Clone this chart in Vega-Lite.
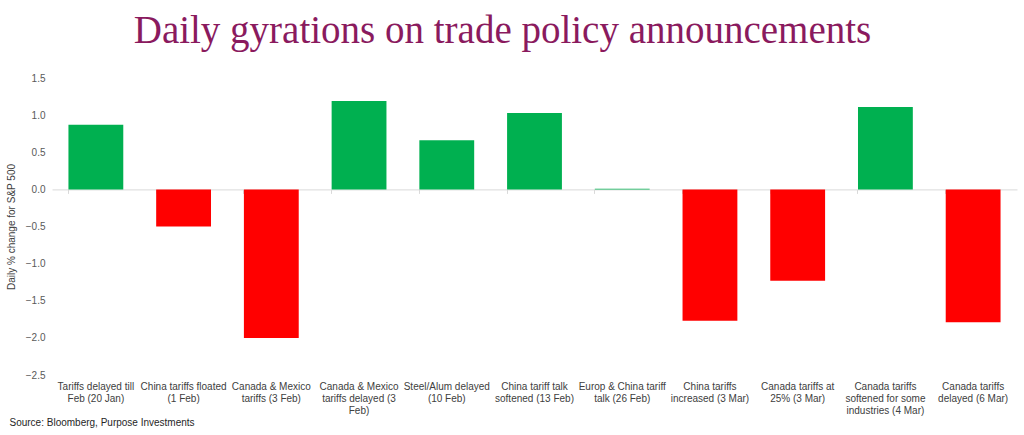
{
  "$schema": "https://vega.github.io/schema/vega-lite/v6.json",
  "autosize": "none",
  "width": 965,
  "height": 297,
  "padding": {"left": 52, "top": 78, "right": 7, "bottom": 60},
  "background": "#ffffff",
  "config": {"view": {"stroke": null}, "font": "Liberation Sans"},
  "title": {
    "text": "Daily gyrations on trade policy announcements",
    "font": "Liberation Serif",
    "fontSize": 39,
    "fontWeight": "normal",
    "color": "#8a1a5e",
    "anchor": "middle",
    "dx": -32,
    "offset": 22
  },
  "data": {
    "values": [
      {"event": "Tariffs delayed till|Feb (20 Jan)", "value": 0.87},
      {"event": "China tariffs floated|(1 Feb)", "value": -0.5},
      {"event": "Canada & Mexico|tariffs (3 Feb)", "value": -2.0},
      {"event": "Canada & Mexico|tariffs delayed (3|Feb)", "value": 1.19},
      {"event": "Steel/Alum delayed|(10 Feb)", "value": 0.66},
      {"event": "China tariff talk|softened (13 Feb)", "value": 1.03},
      {"event": "Europ & China tariff|talk (26 Feb)", "value": 0.01},
      {"event": "China tariffs|increased (3 Mar)", "value": -1.77},
      {"event": "Canada tariffs at|25% (3 Mar)", "value": -1.23},
      {"event": "Canada tariffs|softened for some|industries (4 Mar)", "value": 1.11},
      {"event": "Canada tariffs|delayed (6 Mar)", "value": -1.79}
    ]
  },
  "resolve": {"axis": {"x": "independent"}},
  "layer": [
    {
      "mark": {"type": "bar"},
      "encoding": {
        "x": {
          "field": "event",
          "type": "nominal",
          "sort": null,
          "scale": {"paddingInner": 0.375, "paddingOuter": 0.1875},
          "axis": {
            "orient": "bottom",
            "offset": -185.6,
            "labels": false,
            "title": null,
            "domain": true,
            "domainColor": "#d9d9d9",
            "domainWidth": 1,
            "ticks": true,
            "tickColor": "#d9d9d9",
            "tickSize": 4,
            "bandPosition": 0,
            "grid": false
          }
        },
        "y": {
          "field": "value",
          "type": "quantitative",
          "scale": {"domain": [-2.5, 1.5], "nice": false, "zero": false},
          "axis": {
            "values": [-2.5, -2, -1.5, -1, -0.5, 0, 0.5, 1, 1.5],
            "format": ".1f",
            "domain": false,
            "ticks": false,
            "grid": false,
            "labelFontSize": 10,
            "labelColor": "#595959",
            "labelPadding": 7,
            "title": "Daily % change for S&P 500",
            "titleFontSize": 10,
            "titleFontWeight": "normal",
            "titleColor": "#404040",
            "titlePadding": 9
          }
        },
        "color": {
          "condition": {"test": "datum.value >= 0", "value": "#00b050"},
          "value": "#ff0000"
        }
      }
    },
    {
      "mark": {"type": "text", "text": ""},
      "encoding": {
        "x": {
          "field": "event",
          "type": "nominal",
          "sort": null,
          "axis": {
            "orient": "bottom",
            "domain": false,
            "ticks": false,
            "grid": false,
            "labelAngle": 0,
            "labelExpr": "split(datum.label, '|')",
            "labelFontSize": 10,
            "labelLineHeight": 12,
            "labelColor": "#404040",
            "labelPadding": 6,
            "labelBaseline": "top",
            "labelLimit": 0,
            "title": "Source: Bloomberg, Purpose Investments",
            "titleFontSize": 10,
            "titleFontWeight": "normal",
            "titleColor": "#262626",
            "titleAnchor": "start",
            "titleAlign": "left",
            "titleBaseline": "middle",
            "titleX": -43,
            "titleY": 47
          }
        }
      }
    }
  ]
}
